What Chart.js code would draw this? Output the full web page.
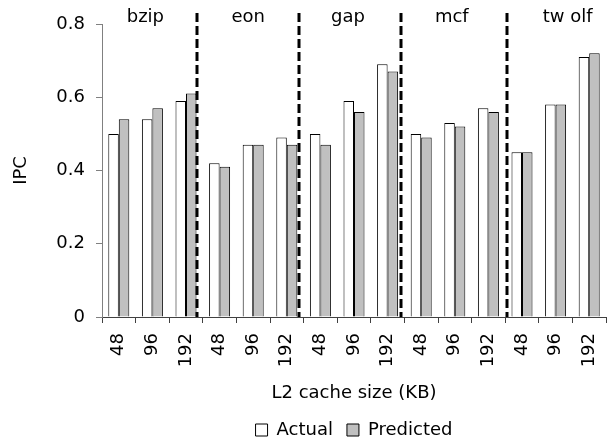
<!DOCTYPE html>
<html>
<head>
<meta charset="utf-8">
<script src="https://cdn.jsdelivr.net/npm/chart.js@4"></script>
<style>
  html, body { margin: 0; padding: 0; background: #fff; }
  #wrap { width: 608px; height: 441px; }
</style>
</head>
<body>
<div id="wrap"><canvas id="ipcChart"></canvas></div>
<script>
const cacheSizes = ['48', '96', '192', '48', '96', '192', '48', '96', '192', '48', '96', '192', '48', '96', '192'];
const benchmarks = ['bzip', 'eon', 'gap', 'mcf', 'tw olf'];
const actualIpc = [0.50, 0.54, 0.59, 0.42, 0.47, 0.49, 0.50, 0.59, 0.69, 0.50, 0.53, 0.57, 0.45, 0.58, 0.71];
const predictedIpc = [0.54, 0.57, 0.61, 0.41, 0.47, 0.47, 0.47, 0.56, 0.67, 0.49, 0.52, 0.56, 0.45, 0.58, 0.72];

const FONT = 'DejaVu Sans';

// dashed separators between benchmarks + benchmark names on top
const groupPlugin = {
  id: 'groups',
  afterDatasetsDraw(chart) {
    const ctx = chart.ctx;
    const x = chart.scales.x;
    const area = chart.chartArea;
    const sepOffsets = [-0.17, -0.14, -0.1, 0.05];
    const nameShift = [-7, -5, -6, -3, 12];
    ctx.save();
    ctx.strokeStyle = '#000';
    ctx.lineWidth = 3;
    ctx.setLineDash([9, 4]);
    sepOffsets.forEach(function(off, i) {
      const px = Math.round(x.getPixelForValue((i + 1) * 3 - 0.5 + off));
      ctx.beginPath();
      ctx.moveTo(px, 13);
      ctx.lineTo(px, area.bottom);
      ctx.stroke();
    });
    ctx.setLineDash([]);
    ctx.fillStyle = '#000';
    ctx.font = '18px "' + FONT + '"';
    ctx.textAlign = 'center';
    ctx.textBaseline = 'alphabetic';
    benchmarks.forEach(function(name, g) {
      ctx.fillText(name, x.getPixelForValue(g * 3 + 1) + nameShift[g], 22);
    });
    ctx.restore();
  }
};

const ctx = document.getElementById('ipcChart').getContext('2d');
new Chart(ctx, {
  type: 'bar',
  data: {
    labels: cacheSizes,
    datasets: [{
      label: 'Actual',
      data: actualIpc,
      backgroundColor: '#ffffff',
      borderColor: '#000000',
      borderWidth: 1,
      categoryPercentage: 0.625,
      barPercentage: 1.0
    }, {
      label: 'Predicted',
      data: predictedIpc,
      backgroundColor: '#c0c0c0',
      borderColor: '#000000',
      borderWidth: 1,
      categoryPercentage: 0.625,
      barPercentage: 1.0
    }]
  },
  options: {
    responsive: true,
    maintainAspectRatio: false,
    animation: false,
    events: [],
    layout: { padding: { top: 24, right: 2, left: 0, bottom: -8 } },
    plugins: {
      legend: {
        position: 'bottom',
        fullSize: false,
        labels: {
          font: { family: FONT, size: 18 },
          color: '#000',
          boxWidth: 12,
          boxHeight: 12,
          padding: 14
        }
      },
      tooltip: { enabled: false }
    },
    scales: {
      x: {
        grid: { display: true, drawOnChartArea: false, tickLength: 6, color: '#404040' },
        border: { color: '#404040' },
        ticks: {
          color: '#000',
          font: { family: FONT, size: 18 },
          minRotation: 90,
          maxRotation: 90,
          autoSkip: false,
          padding: 10
        },
        title: {
          display: true,
          text: 'L2 cache size (KB)',
          color: '#000',
          font: { family: FONT, size: 18 },
          padding: { top: 0, bottom: 3 }
        },
        afterFit: function(scale) {
          scale.height = 90;
          scale.paddingLeft = 0;
          scale.paddingRight = 0;
        }
      },
      y: {
        min: 0,
        max: 0.8,
        grid: { display: true, drawOnChartArea: false, tickLength: 6, color: '#808080' },
        border: { color: '#808080' },
        ticks: {
          stepSize: 0.2,
          color: '#000',
          font: { family: FONT, size: 18 },
          padding: 11
        },
        title: {
          display: true,
          text: 'IPC',
          color: '#000',
          font: { family: FONT, size: 18 },
          padding: { top: 11, bottom: 0 }
        },
        afterFit: function(scale) { scale.width = 102; }
      }
    }
  },
  plugins: [groupPlugin]
});
</script>
</body>
</html>
